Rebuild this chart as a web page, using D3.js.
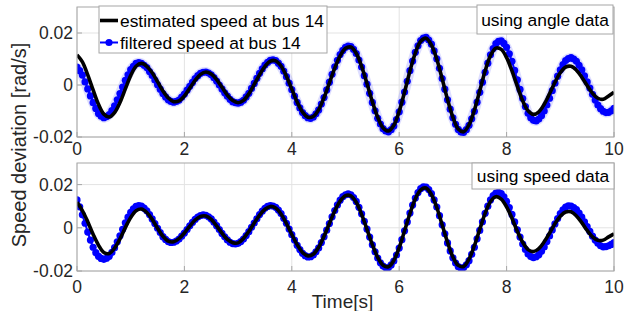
<!DOCTYPE html>
<html>
<head>
<meta charset="utf-8">
<script src="https://cdn.jsdelivr.net/npm/d3@7"></script>
<style>
  body { margin: 0; background: #fff; }
  svg { display: block; font-family: "Liberation Sans", Arial, sans-serif; }
</style>
</head>
<body>
<div id="chart"></div>
<script>
// sample times: black every 0.1 s, blue markers every 0.05 s
var tCoarse = d3.range(101).map(i => +(i * 0.1).toFixed(2));
var tFine = d3.range(201).map(i => +(i * 0.05).toFixed(2));

var xTicks = [0, 2, 4, 6, 8, 10];
var yTicks = [-0.02, 0, 0.02];

// top panel (using angle data)
var estAngle = [0.0116,0.0089,0.0039,-0.0019,-0.0074,-0.0112,-0.0123,-0.0106,-0.0067,-0.0015,
  0.0036,0.0072,0.0083,0.0072,0.0047,0.0013,-0.0023,-0.0050,-0.0064,-0.0061,
  -0.0042,-0.0012,0.0018,0.0041,0.0050,0.0042,0.0021,-0.0009,-0.0039,-0.0060,
  -0.0068,-0.0059,-0.0034,0.0002,0.0040,0.0072,0.0092,0.0093,0.0073,0.0034,
  -0.0016,-0.0065,-0.0104,-0.0124,-0.0121,-0.0095,-0.0049,0.0008,0.0065,0.0112,
  0.0141,0.0146,0.0122,0.0072,0.0006,-0.0064,-0.0124,-0.0165,-0.0177,-0.0155,
  -0.0101,-0.0027,0.0054,0.0123,0.0168,0.0180,0.0154,0.0099,0.0024,-0.0056,
  -0.0124,-0.0169,-0.0180,-0.0153,-0.0097,-0.0022,0.0054,0.0113,0.0142,0.0137,
  0.0105,0.0054,-0.0005,-0.0061,-0.0099,-0.0113,-0.0103,-0.0074,-0.0033,0.0010,
  0.0047,0.0069,0.0072,0.0057,0.0030,-0.0002,-0.0032,-0.0051,-0.0055,-0.0042,-0.0028];

var filtAngle = [0.0069,0.0055,0.0038,0.0012,-0.0015,-0.0042,-0.0068,-0.0090,-0.0110,-0.0120,
  -0.0126,-0.0122,-0.0114,-0.0098,-0.0080,-0.0057,-0.0033,-0.0008,0.0018,0.0039,
  0.0059,0.0072,0.0083,0.0086,0.0083,0.0076,0.0067,0.0052,0.0037,0.0019,
  0.0001,-0.0016,-0.0033,-0.0046,-0.0057,-0.0063,-0.0066,-0.0063,-0.0058,-0.0047,
  -0.0035,-0.0020,-0.0005,0.0010,0.0025,0.0036,0.0045,0.0049,0.0050,0.0046,
  0.0039,0.0028,0.0015,0.0000,-0.0015,-0.0030,-0.0043,-0.0055,-0.0064,-0.0068,
  -0.0070,-0.0066,-0.0059,-0.0046,-0.0032,-0.0013,0.0006,0.0026,0.0045,0.0062,
  0.0077,0.0087,0.0095,0.0097,0.0094,0.0084,0.0072,0.0053,0.0032,0.0007,
  -0.0018,-0.0043,-0.0067,-0.0088,-0.0106,-0.0118,-0.0126,-0.0128,-0.0123,-0.0111,
  -0.0096,-0.0073,-0.0048,-0.0019,0.0011,0.0041,0.0070,0.0095,0.0117,0.0133,
  0.0145,0.0150,0.0148,0.0137,0.0121,0.0096,0.0069,0.0036,0.0003,-0.0032,
  -0.0067,-0.0099,-0.0128,-0.0150,-0.0168,-0.0177,-0.0180,-0.0172,-0.0158,-0.0133,
  -0.0103,-0.0066,-0.0027,0.0014,0.0055,0.0092,0.0126,0.0151,0.0171,0.0180,
  0.0183,0.0173,0.0157,0.0131,0.0101,0.0064,0.0025,-0.0016,-0.0057,-0.0093,
  -0.0126,-0.0151,-0.0171,-0.0181,-0.0182,-0.0172,-0.0155,-0.0130,-0.0101,-0.0066,
  -0.0028,0.0011,0.0049,0.0084,0.0116,0.0140,0.0159,0.0168,0.0170,0.0160,
  0.0145,0.0120,0.0091,0.0056,0.0020,-0.0017,-0.0052,-0.0083,-0.0109,-0.0126,
  -0.0136,-0.0138,-0.0131,-0.0118,-0.0100,-0.0077,-0.0051,-0.0022,0.0007,0.0034,
  0.0058,0.0078,0.0094,0.0102,0.0105,0.0100,0.0091,0.0076,0.0058,0.0035,
  0.0012,-0.0012,-0.0036,-0.0058,-0.0077,-0.0091,-0.0101,-0.0106,-0.0105,-0.0099,
  -0.0090];

// bottom panel (using speed data)
var estSpeed = [0.0118,0.0080,0.0028,-0.0030,-0.0080,-0.0114,-0.0119,-0.0094,-0.0051,0.0001,
  0.0048,0.0079,0.0087,0.0071,0.0039,-0.0002,-0.0039,-0.0062,-0.0065,-0.0050,
  -0.0024,0.0008,0.0036,0.0053,0.0055,0.0039,0.0009,-0.0025,-0.0054,-0.0069,
  -0.0070,-0.0049,-0.0017,0.0022,0.0059,0.0086,0.0099,0.0092,0.0064,0.0020,
  -0.0031,-0.0078,-0.0114,-0.0130,-0.0122,-0.0090,-0.0039,0.0020,0.0078,0.0124,
  0.0149,0.0148,0.0118,0.0062,-0.0007,-0.0078,-0.0137,-0.0173,-0.0180,-0.0151,
  -0.0092,-0.0014,0.0066,0.0134,0.0176,0.0184,0.0154,0.0094,0.0014,-0.0067,
  -0.0135,-0.0174,-0.0179,-0.0145,-0.0083,-0.0007,0.0067,0.0122,0.0144,0.0133,
  0.0097,0.0044,-0.0016,-0.0067,-0.0101,-0.0110,-0.0096,-0.0065,-0.0024,0.0019,
  0.0054,0.0073,0.0074,0.0055,0.0024,-0.0012,-0.0042,-0.0058,-0.0057,-0.0042,-0.0028];

var filtSpeed = [0.0129,0.0097,0.0060,0.0021,-0.0020,-0.0057,-0.0090,-0.0115,-0.0132,-0.0142,
  -0.0146,-0.0141,-0.0132,-0.0114,-0.0092,-0.0065,-0.0037,-0.0007,0.0023,0.0049,
  0.0072,0.0088,0.0099,0.0103,0.0100,0.0091,0.0079,0.0061,0.0041,0.0020,
  -0.0002,-0.0022,-0.0041,-0.0054,-0.0064,-0.0068,-0.0067,-0.0061,-0.0052,-0.0039,
  -0.0024,-0.0008,0.0009,0.0025,0.0039,0.0050,0.0057,0.0060,0.0058,0.0051,
  0.0041,0.0026,0.0010,-0.0008,-0.0026,-0.0042,-0.0056,-0.0067,-0.0073,-0.0075,
  -0.0072,-0.0064,-0.0052,-0.0036,-0.0018,0.0002,0.0022,0.0042,0.0061,0.0077,
  0.0090,0.0099,0.0103,0.0101,0.0095,0.0082,0.0066,0.0044,0.0021,-0.0006,
  -0.0032,-0.0057,-0.0081,-0.0101,-0.0118,-0.0129,-0.0135,-0.0134,-0.0126,-0.0111,
  -0.0093,-0.0068,-0.0041,-0.0011,0.0020,0.0051,0.0080,0.0106,0.0128,0.0144,
  0.0153,0.0157,0.0153,0.0140,0.0122,0.0095,0.0065,0.0030,-0.0006,-0.0043,
  -0.0079,-0.0111,-0.0140,-0.0162,-0.0177,-0.0185,-0.0184,-0.0172,-0.0154,-0.0126,
  -0.0094,-0.0055,-0.0014,0.0027,0.0068,0.0105,0.0138,0.0163,0.0181,0.0190,
  0.0188,0.0177,0.0158,0.0129,0.0096,0.0056,0.0014,-0.0028,-0.0070,-0.0107,
  -0.0139,-0.0163,-0.0180,-0.0187,-0.0184,-0.0171,-0.0152,-0.0123,-0.0090,-0.0051,
  -0.0012,0.0028,0.0067,0.0100,0.0129,0.0149,0.0161,0.0164,0.0158,0.0143,
  0.0122,0.0094,0.0062,0.0027,-0.0009,-0.0043,-0.0075,-0.0100,-0.0121,-0.0133,
  -0.0138,-0.0134,-0.0125,-0.0109,-0.0089,-0.0064,-0.0038,-0.0010,0.0018,0.0043,
  0.0066,0.0083,0.0096,0.0102,0.0101,0.0094,0.0084,0.0068,0.0049,0.0027,
  0.0005,-0.0017,-0.0039,-0.0057,-0.0072,-0.0083,-0.0088,-0.0087,-0.0083,-0.0077,
  -0.0069];

var W = 629, H = 311;
var left = 77, right = 614;
var tickFont = 17.5, legendFont = 17.4;
var axisColor = '#262626';

var svg = d3.select('#chart').append('svg')
    .attr('width', W).attr('height', H);
svg.append('rect').attr('width', W).attr('height', H).attr('fill', '#fff');

var xScale = d3.scaleLinear().domain([0, 10]).range([left, right]);

var drawPanel = function(opts) {
    var yScale = d3.scaleLinear().domain([-0.02, 0.03]).range([opts.bottom, opts.top]);
    var g = svg.append('g');
    var clipId = 'clip' + opts.top;
    svg.append('clipPath').attr('id', clipId).append('rect')
        .attr('x', left).attr('y', opts.top)
        .attr('width', right - left).attr('height', opts.bottom - opts.top);

    // grid
    g.selectAll('.gx').data(xTicks).enter().append('line')
        .attr('x1', d => xScale(d)).attr('x2', d => xScale(d))
        .attr('y1', opts.top).attr('y2', opts.bottom)
        .style('stroke', '#e3e3e3').style('stroke-width', 1);
    g.selectAll('.gy').data(yTicks).enter().append('line')
        .attr('x1', left).attr('x2', right)
        .attr('y1', d => yScale(d)).attr('y2', d => yScale(d))
        .style('stroke', '#e3e3e3').style('stroke-width', 1);

    var plot = g.append('g').attr('clip-path', 'url(#' + clipId + ')');
    var blue = tFine.map((t, i) => ({t: t, v: opts.filt[i]}));
    var black = tCoarse.map((t, i) => ({t: t, v: opts.est[i]}));
    var lineFine = d3.line().x(d => xScale(d.t)).y(d => yScale(d.v));
    var lineSmooth = d3.line().x(d => xScale(d.t)).y(d => yScale(d.v)).curve(d3.curveCatmullRom);

    if (opts.halo) {
        plot.append('path').attr('d', lineFine(blue))
            .style('fill', 'none').style('stroke', 'rgba(90,90,255,0.2)')
            .style('stroke-width', 10).style('stroke-linejoin', 'round');
    }
    plot.append('path').attr('d', lineFine(blue))
        .style('fill', 'none').style('stroke', '#0000ff').style('stroke-width', 2);
    plot.selectAll('.dot').data(blue).enter().append('circle')
        .attr('cx', d => xScale(d.t)).attr('cy', d => yScale(d.v)).attr('r', 3.6)
        .style('fill', '#0000ff');
    plot.append('path').attr('d', lineSmooth(black))
        .style('fill', 'none').style('stroke', '#000').style('stroke-width', 3.6)
        .style('stroke-linejoin', 'round');

    // box
    g.append('rect').attr('x', left).attr('y', opts.top)
        .attr('width', right - left).attr('height', opts.bottom - opts.top)
        .style('fill', 'none').style('stroke', '#a6a6a6').style('stroke-width', 1);

    // ticks (inward)
    g.selectAll('.tx').data(xTicks).enter().append('line')
        .attr('x1', d => xScale(d)).attr('x2', d => xScale(d))
        .attr('y1', opts.bottom).attr('y2', opts.bottom - 5)
        .style('stroke', '#a6a6a6');
    g.selectAll('.ty').data(yTicks).enter().append('line')
        .attr('x1', left).attr('x2', left + 5)
        .attr('y1', d => yScale(d)).attr('y2', d => yScale(d))
        .style('stroke', '#a6a6a6');

    // tick labels
    g.selectAll('.lx').data(xTicks).enter().append('text')
        .attr('x', d => xScale(d)).attr('y', opts.xLabelY)
        .attr('text-anchor', 'middle')
        .style('font-size', tickFont + 'px').style('fill', axisColor)
        .text(d => d3.format('d')(d));
    g.selectAll('.ly').data(yTicks).enter().append('text')
        .attr('x', left - 4).attr('y', d => yScale(d))
        .attr('dy', '0.36em').attr('text-anchor', 'end')
        .style('font-size', tickFont + 'px').style('fill', axisColor)
        .text(d => d === 0 ? '0' : d3.format('.2f')(d).replace('−', '-'));

    // annotation box
    var ann = opts.note;
    g.append('rect').attr('x', ann.x).attr('y', ann.y).attr('width', ann.w).attr('height', ann.h)
        .style('fill', '#fff').style('stroke', '#a6a6a6');
    g.append('text').attr('x', ann.x + ann.w / 2).attr('y', ann.y + ann.h / 2)
        .attr('dy', '0.36em').attr('text-anchor', 'middle')
        .style('font-size', legendFont + 'px').style('fill', '#000')
        .text(ann.text);
    return g;
};

var top1 = drawPanel({top: 7, bottom: 137, est: estAngle, filt: filtAngle, halo: true,
    xLabelY: 154.5, note: {x: 477, y: 5, w: 136, h: 29, text: 'using angle data'}});
drawPanel({top: 163, bottom: 271, est: estSpeed, filt: filtSpeed, halo: false,
    xLabelY: 293, note: {x: 472, y: 163, w: 142, h: 26, text: 'using speed data'}});

// legend in top panel
var leg = top1.append('g');
leg.append('rect').attr('x', 99).attr('y', 6).attr('width', 228).attr('height', 47)
    .style('fill', '#fff').style('stroke', '#a6a6a6');
leg.append('line').attr('x1', 100).attr('x2', 118).attr('y1', 20.5).attr('y2', 20.5)
    .style('stroke', '#000').style('stroke-width', 3.6);
leg.append('line').attr('x1', 100).attr('x2', 118).attr('y1', 42.5).attr('y2', 42.5)
    .style('stroke', '#0000ff').style('stroke-width', 2);
leg.append('circle').attr('cx', 109).attr('cy', 42.5).attr('r', 3.6).style('fill', '#0000ff');
leg.append('text').attr('x', 120).attr('y', 20.5).attr('dy', '0.36em')
    .style('font-size', legendFont + 'px').text('estimated speed at bus 14');
leg.append('text').attr('x', 120).attr('y', 42.5).attr('dy', '0.36em')
    .style('font-size', legendFont + 'px').text('filtered speed at bus 14');

// axis labels
svg.append('text')
    .attr('transform', 'translate(26,145) rotate(-90)')
    .attr('text-anchor', 'middle')
    .style('font-size', '20px').style('fill', axisColor)
    .text('Speed deviation [rad/s]');
svg.append('text')
    .attr('x', 342.5).attr('y', 307.5)
    .attr('text-anchor', 'middle')
    .style('font-size', '19px').style('fill', axisColor)
    .text('Time[s]');
</script>
</body>
</html>
